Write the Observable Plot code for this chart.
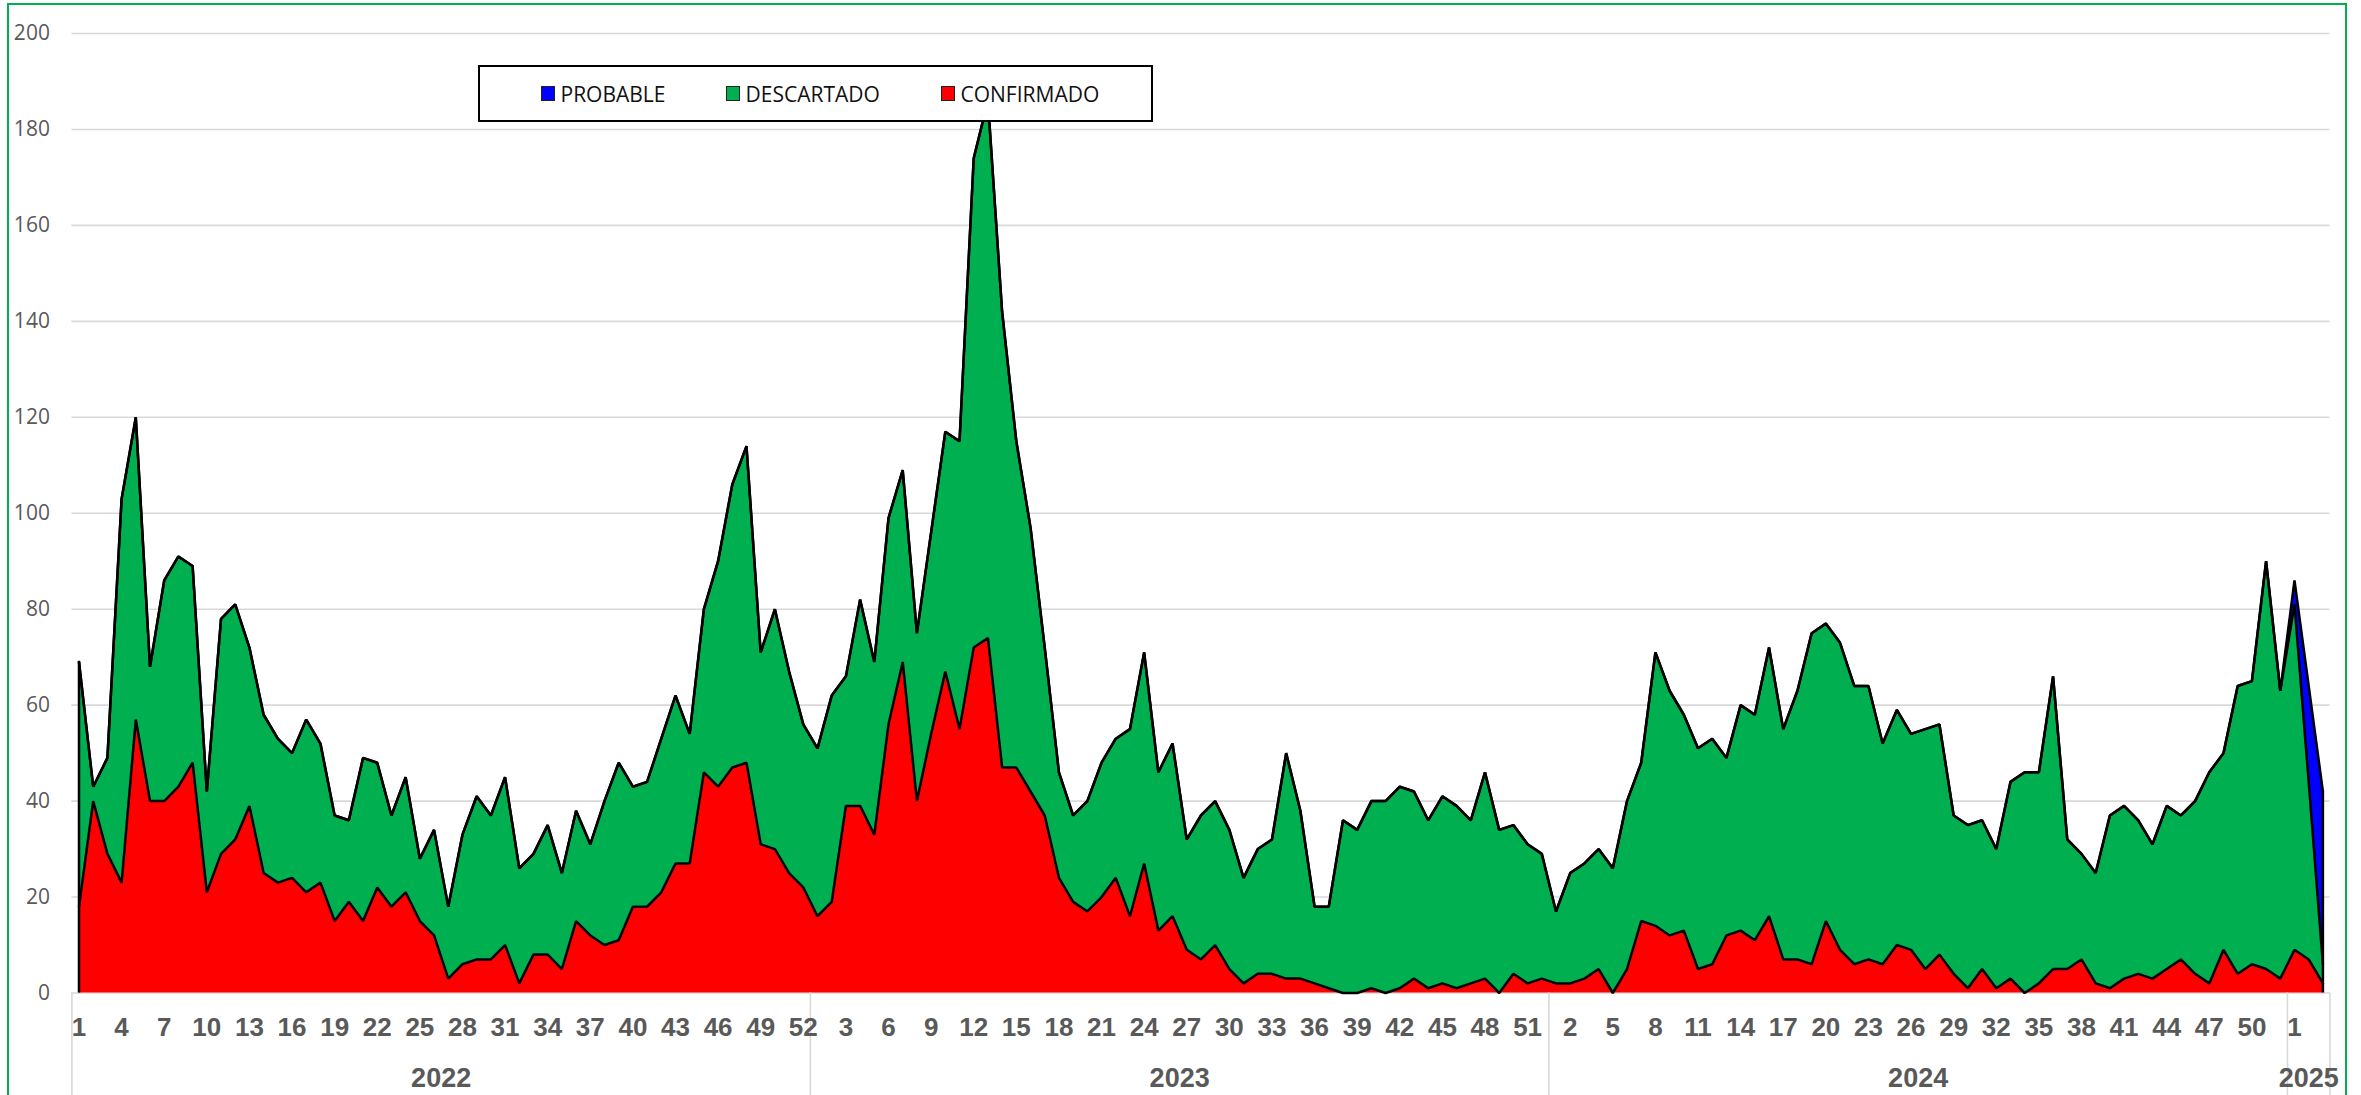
<!DOCTYPE html>
<html>
<head>
<meta charset="utf-8">
<script src="https://cdn.jsdelivr.net/npm/d3@7"></script>
<script src="https://cdn.jsdelivr.net/npm/@observablehq/plot@0.6"></script>
<style>
  html, body { margin: 0; padding: 0; background: #fff; }
  #wrap { position: relative; width: 2361px; height: 1095px; overflow: hidden; background: #fff; }
  #wrap svg { position: absolute; left: 0; top: 0; }
  #frame { position: absolute; left: 7px; top: 3px; width: 2340px; height: 1200px; border: 2.5px solid #00B050; box-sizing: border-box; pointer-events: none; }
  #legend { position: absolute; left: 478px; top: 65px; width: 675px; height: 57px; border: 2.5px solid #000; box-sizing: border-box; background: #fff; font-family: "Open Sans", sans-serif; font-size: 21px; color: #111; }
  .item { position: absolute; top: 0; height: 100%; display: flex; align-items: center; white-space: nowrap; }
  .sw { width: 14px; height: 15px; border: 1.5px solid #222; box-sizing: border-box; margin-right: 6px; }
</style>
</head>
<body>
<div id="wrap"></div>
<script>
// ---- categories ----
const years = ["2022", "2023", "2024", "2025"];
const weeksPerYear = [52, 52, 52, 3];
const seriesNames = ["CONFIRMADO", "DESCARTADO", "PROBABLE"];
const seriesColors = ["#FF0000", "#00B050", "#0000FF"];
const legendOrder = ["PROBABLE", "DESCARTADO", "CONFIRMADO"];
const yTicks = [0, 20, 40, 60, 80, 100, 120, 140, 160, 180, 200];

// ---- series values (2022 w1 .. 2025 w3) ----
const confirmado = [
  // 2022
  18,40,29,23,57,40,40,43,48,21, 29,32,39,25,23,24,21,23,15,19,
  15,22,18,21,15,12,3,6,7,7, 10,2,8,8,5,15,12,10,11,18,
  18,21,27,27,46,43,47,48,31,30, 25,22,
  // 2023
  16,19,39,39,33,56,69,40,54,67, 55,72,74,47,47,42,37,24,19,17,
  20,24,16,27,13,16,9,7,10,5, 2,4,4,3,3,2,1,0,0,1,
  0,1,3,1,2,1,2,3,0,4, 2,3,
  // 2024
  2,2,3,5,0,5,15,14,12,13, 5,6,12,13,11,16,7,7,6,15,
  9,6,7,6,10,9,5,8,4,1, 5,1,3,0,2,5,5,7,2,1,
  3,4,3,5,7,4,2,9,4,6, 5,3,
  // 2025
  9,7,2
];
const descartado = [
  // 2022
  51,3,20,80,63,28,46,48,41,21, 49,49,33,33,30,26,36,29,22,17,
  34,26,19,24,13,22,15,27,34,30, 35,24,21,27,20,23,19,30,37,25,
  26,32,35,27,34,47,59,66,40,50, 42,34,
  // 2023
  35,43,27,43,36,43,40,35,42,50, 60,102,112,95,68,55,35,22,18,23,
  28,29,39,44,33,36,23,30,30,29, 22,26,28,47,35,16,17,36,34,39,
  40,42,39,35,39,38,34,43,34,31, 29,26,
  // 2024
  15,23,24,25,26,35,33,57,51,45, 46,47,37,47,47,56,48,56,69,62,
  64,58,57,46,49,45,50,48,33,34, 31,29,41,46,44,61,27,22,23,36,
  36,32,28,34,30,36,44,41,60,59, 85,60,
  // 2025
  72,37,4
];
const probable = [
  // 2022
  0,0,0,0,0,0,0,0,0,0, 0,0,0,0,0,0,0,0,0,0,
  0,0,0,0,0,0,0,0,0,0, 0,0,0,0,0,0,0,0,0,0,
  0,0,0,0,0,0,0,0,0,0, 0,0,
  // 2023
  0,0,0,0,0,0,0,0,0,0, 0,0,0,0,0,0,0,0,0,0,
  0,0,0,0,0,0,0,0,0,0, 0,0,0,0,0,0,0,0,0,0,
  0,0,0,0,0,0,0,0,0,0, 0,0,
  // 2024
  0,0,0,0,0,0,0,0,0,0, 0,0,0,0,0,0,0,0,0,0,
  0,0,0,0,0,0,0,0,0,0, 0,0,0,0,0,0,0,0,0,0,
  0,0,0,0,0,0,0,0,0,0, 0,0,
  // 2025
  5,20,36
];

// ---- build table ----
const n = confirmado.length;
const idx = d3.range(n);
const weekOf = [];
const starts = [0];
weeksPerYear.forEach((c) => {
  for (let w = 1; w <= c; w++) weekOf.push(w);
  starts.push(starts[starts.length - 1] + c);
});
const values = { CONFIRMADO: confirmado, DESCARTADO: descartado, PROBABLE: probable };
const rows = idx.flatMap((i) => seriesNames.map((s) => ({ i, s, v: values[s][i] })));
const totals = idx.map((i) => confirmado[i] + descartado[i] + probable[i]);
const edges = [0, n - 1].map((i) => ({ i, t: totals[i] }));
const sepTicks = starts.map((s) => s - 0.5);
const weekTicks = idx.filter((i) => i % 3 === 0);
const yearCenters = years.map((y, k) => (starts[k] + starts[k + 1] - 1) / 2);

const chart = Plot.plot({
  width: 2361,
  height: 1095,
  marginLeft: 71.4,
  marginRight: 31.5,
  marginTop: 33,
  marginBottom: 102.5,
  x: { domain: [-0.5, n - 0.5], label: null },
  y: { domain: [0, 200], label: null },
  color: { domain: seriesNames, range: seriesColors },
  style: { background: "transparent", overflow: "visible" },
  marks: [
    Plot.gridY({ ticks: yTicks, stroke: "#D9D9D9", strokeOpacity: 1, strokeWidth: 1.6 }),
    Plot.areaY(rows, { x: "i", y: "v", fill: "s", order: seriesNames }),
    Plot.lineY(rows, Plot.stackY2({ x: "i", y: "v", z: "s", order: seriesNames, stroke: "#000", strokeWidth: 2.5, strokeLinejoin: "miter" })),
    Plot.ruleX(edges, { x: "i", y1: 0, y2: "t", stroke: "#000", strokeWidth: 2.5 }),
    Plot.axisY({ ticks: yTicks, tickSize: 0, tickPadding: 22, fontSize: 21, fontFamily: "Open Sans", fill: "#595959", label: null }),
    Plot.axisX({ ticks: sepTicks, tickSize: 102.5, tickFormat: () => "", stroke: "#D9D9D9", strokeWidth: 1.6, label: null }),
    Plot.axisX({ ticks: weekTicks, tickSize: 0, tickPadding: 24.6, tickFormat: (i) => String(weekOf[i]), fontSize: 26, fontWeight: "bold", fontFamily: "Liberation Sans, Arial, sans-serif", fill: "#595959", label: null }),
    Plot.axisX({ ticks: yearCenters, tickSize: 0, tickPadding: 75.3, tickFormat: (d) => years[yearCenters.indexOf(d)], fontSize: 27, fontWeight: "bold", fontFamily: "Liberation Sans, Arial, sans-serif", fill: "#595959", label: null })
  ]
});

const wrap = document.getElementById("wrap");
wrap.appendChild(chart);

// legend (HTML overlay)
const legend = document.createElement("div");
legend.id = "legend";
const itemLeft = [60.5, 245.5, 460.5];
legendOrder.forEach((name, k) => {
  const item = document.createElement("div");
  item.className = "item";
  item.style.left = itemLeft[k] + "px";
  const sw = document.createElement("span");
  sw.className = "sw";
  sw.style.background = seriesColors[seriesNames.indexOf(name)];
  const tx = document.createElement("span");
  tx.textContent = name;
  item.appendChild(sw);
  item.appendChild(tx);
  legend.appendChild(item);
});
wrap.appendChild(legend);

const frame = document.createElement("div");
frame.id = "frame";
wrap.appendChild(frame);
</script>
</body>
</html>
